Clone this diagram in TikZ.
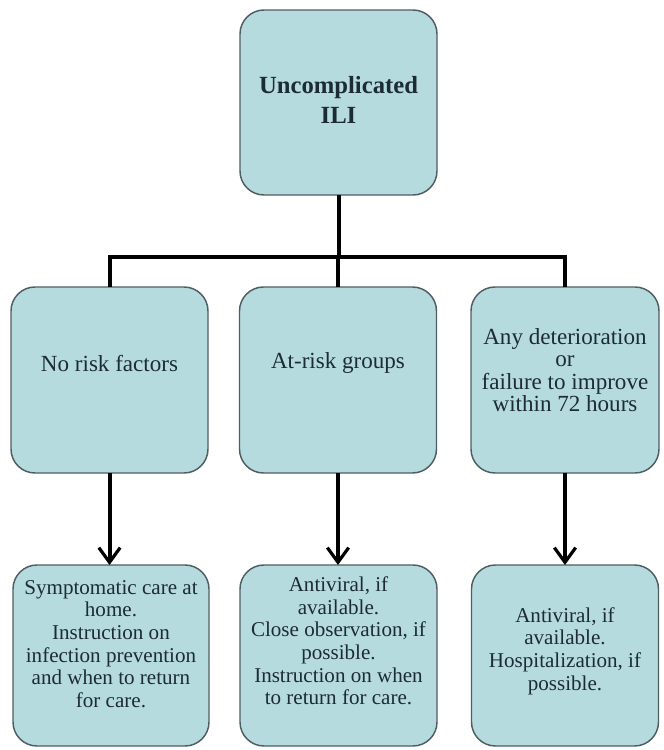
\documentclass[tikz,border=0pt]{standalone}
\usepackage{fontspec}
\setmainfont{LiberationSerif}[Extension=.ttf, UprightFont=*-Regular, BoldFont=*-Bold, ItalicFont=*-Italic, BoldItalicFont=*-BoldItalic]
\usetikzlibrary{arrows.meta}
\definecolor{boxfill}{HTML}{B6DBDF}
\definecolor{boxline}{HTML}{4F5E62}
\definecolor{txt}{HTML}{1C2B36}
\tikzset{
  box/.style={draw=boxline, fill=boxfill, line width=1.1pt, rounded corners=18pt, inner sep=0pt, outer sep=0pt},
  toptxt/.style={align=center, text=txt, font=\fontsize{18.5}{22.5}\selectfont\bfseries},
  midtxt/.style={align=center, text=txt, font=\fontsize{17.3}{16.8}\selectfont},
  bottxt/.style={align=center, text=txt, font=\fontsize{15.8}{17}\selectfont},
  conn/.style={line width=3pt, black, line join=miter, line cap=butt},
  arr/.style={conn, -{Straight Barb[length=11pt, width=16pt, line width=2.4pt]}}
}
\begin{document}
\begin{tikzpicture}[x=0.75pt, y=-0.75pt]
\useasboundingbox[fill=white] (0,0) rectangle (664,750);
% top
\node[box, minimum width=147.75pt, minimum height=138.75pt] (top) at (338.5,102.5) {};
\node[toptxt] (toplbl) at (338.5,100) {Uncomplicated\\ILI};
% middle row
\node[box, minimum width=147.75pt, minimum height=139.5pt] (m1) at (109.5,380) {};
\node[box, minimum width=147.75pt, minimum height=139.5pt] (m2) at (338,380) {};
\node[box, minimum width=141pt, minimum height=139.5pt] (m3) at (565,380) {};
\node[midtxt] (m1lbl) at (109.5,363) {No risk factors};
\node[midtxt] (m2lbl) at (338,363) {At-risk groups};
\node[midtxt] (m3lbl) at (565,370) {Any deterioration\\or\\failure to improve\\within 72 hours};
% bottom row
\node[box, minimum width=147pt, minimum height=135.75pt] (b1) at (111,655.5) {};
\node[box, minimum width=147.75pt, minimum height=135.75pt] (b2) at (338.5,655.5) {};
\node[box, minimum width=140.25pt, minimum height=135.75pt] (b3) at (565,655.5) {};
\node[bottxt] (b1lbl) at (111,644) {Symptomatic care at\\home.\\Instruction on\\infection prevention\\and when to return\\for care.};
\node[bottxt] (b2lbl) at (338.5,641) {Antiviral, if\\available.\\Close observation, if\\possible.\\Instruction on when\\to return for care.};
\node[bottxt] (b3lbl) at (565,651) {Antiviral, if\\available.\\Hospitalization, if\\possible.};
% connectors
\coordinate (j) at (338,257);
\draw[conn] (top.south) -- (top.south |- j);
\draw[conn] (m1.north) -- (m1.north |- j) -- (m3.north |- j) -- (m3.north);
\draw[conn] (m2.north |- j) -- (m2.north);
\draw[arr] (m1.south) -- (m1.south |- b1.north);
\draw[arr] (m2.south) -- (m2.south |- b2.north);
\draw[arr] (m3.south) -- (m3.south |- b3.north);
\end{tikzpicture}
\end{document}
